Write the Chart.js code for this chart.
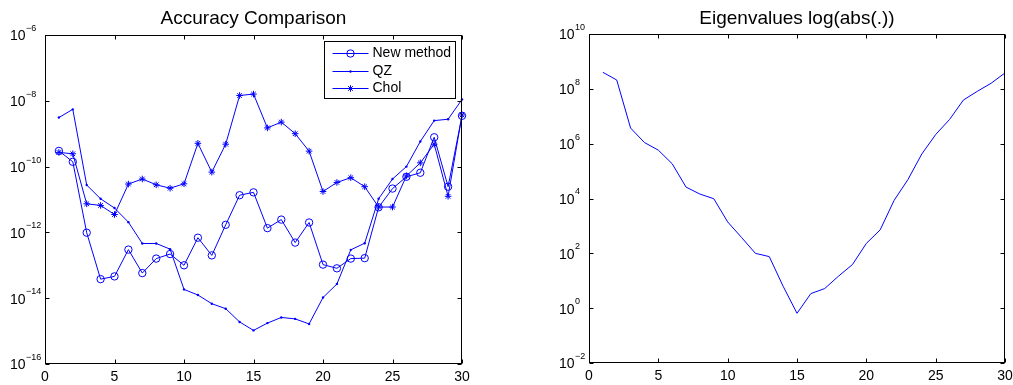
<!DOCTYPE html>
<html><head><meta charset="utf-8">
<script src="https://cdn.jsdelivr.net/npm/chart.js@4/dist/chart.umd.min.js"></script>
<style>
html,body{margin:0;padding:0;background:#fff;overflow:hidden}
#wrap{position:relative;width:1013px;height:385px;background:#fff}
.box{position:absolute;top:0}
</style></head><body>
<div id="wrap">
  <div class="box" style="left:0;width:506px;height:385px"><canvas id="c1" width="506" height="385"></canvas></div>
  <div class="box" style="left:506px;width:507px;height:385px"><canvas id="c2" width="507" height="385"></canvas></div>
</div>
<script>
// ---------- data ----------
const xValues = [1,2,3,4,5,6,7,8,9,10,11,12,13,14,15,16,17,18,19,20,21,22,23,24,25,26,27,28,29,30];
const newMethod = [3.0e-10,1.4e-10,9.8e-13,3.8e-14,4.6e-14,3.0e-13,5.8e-14,1.6e-13,2.2e-13,1.0e-13,
                   6.9e-13,2.0e-13,1.7e-12,1.35e-11,1.65e-11,1.35e-12,2.45e-12,4.9e-13,2.0e-12,1.05e-13,
                   8.1e-14,1.6e-13,1.65e-13,5.8e-12,2.15e-11,4.9e-11,6.5e-11,7.8e-10,2.45e-11,3.5e-9];
const qz = [3.1e-9,5.5e-9,2.75e-11,1.05e-11,5.5e-12,2.05e-12,4.6e-13,4.6e-13,3.1e-13,1.85e-14,
            1.25e-14,6.8e-15,4.8e-15,1.9e-15,1.05e-15,1.75e-15,2.6e-15,2.35e-15,1.65e-15,1.05e-14,
            2.7e-14,2.95e-13,4.7e-13,1.05e-11,4.2e-11,1.0e-10,5.8e-10,2.5e-9,2.75e-9,1.1e-8];
const chol = [2.7e-10,2.45e-10,7.4e-12,6.6e-12,3.5e-12,2.95e-11,4.2e-11,2.8e-11,2.2e-11,3.0e-11,
              5.1e-10,6.8e-11,4.8e-10,1.45e-8,1.6e-8,1.5e-9,2.25e-9,1.0e-9,2.95e-10,1.75e-11,
              3.3e-11,4.6e-11,2.45e-11,5.9e-12,5.9e-12,5.2e-11,1.3e-10,4.8e-10,1.25e-11,3.7e-9];
const eigenAbs = [4.0e8,2.1e8,3.7e6,1.1e6,5.8e5,1.85e5,2.6e4,1.45e4,9.8e3,1.4e3,
                  380,100,76,6.3,0.65,3.4,5.2,14.8,39,230,
                  720,8.5e3,4.9e4,4.2e5,2.15e6,7.6e6,3.9e7,8.1e7,1.6e8,3.8e8];
const xTicks = [0,5,10,15,20,25,30];
const leftYExps = [-6,-8,-10,-12,-14,-16];
const rightYExps = [10,8,6,4,2,0,-2];
const seriesNames = ['New method','QZ','Chol'];
const titles = ['Accuracy Comparison','Eigenvalues log(abs(.))'];

// ---------- styling ----------
const BLUE = '#0000ff';
const FONT = '"Liberation Sans", Arial, Helvetica, sans-serif';

function pts(ys){ return xValues.map((x,i)=>({x:x,y:ys[i]})); }

function drawMarker(ctx, style, x, y){
  ctx.save();
  ctx.strokeStyle = BLUE; ctx.fillStyle = BLUE; ctx.lineWidth = 1;
  if (style === 'circle'){
    ctx.beginPath(); ctx.arc(x, y, 3.7, 0, Math.PI*2); ctx.stroke();
  } else if (style === 'dot'){
    ctx.beginPath(); ctx.arc(x, y, 1.2, 0, Math.PI*2); ctx.fill();
  } else if (style === 'star'){
    const r = 3.3, d = r*Math.SQRT1_2;
    ctx.beginPath();
    ctx.moveTo(x-r,y); ctx.lineTo(x+r,y);
    ctx.moveTo(x,y-r); ctx.lineTo(x,y+r);
    ctx.moveTo(x-d,y-d); ctx.lineTo(x+d,y+d);
    ctx.moveTo(x-d,y+d); ctx.lineTo(x+d,y-d);
    ctx.stroke();
  }
  ctx.restore();
}

function matlabAxes(opts){
  return {
    id: 'matlabAxes',
    afterDraw(chart){
      const ctx = chart.ctx, a = chart.chartArea;
      const xs = chart.scales.x, ys = chart.scales.y;
      const L = Math.round(a.left)+0.5, R = Math.round(a.right)-0.5;
      const T = Math.round(a.top)+0.5, B = Math.round(a.bottom)-0.5;
      ctx.save();
      // box
      ctx.strokeStyle = '#000'; ctx.lineWidth = 1;
      ctx.strokeRect(L, T, R-L, B-T);
      // ticks inward
      const tl = 4;
      ctx.beginPath();
      xTicks.forEach(v=>{
        const px = Math.round(xs.getPixelForValue(v))+0.5;
        ctx.moveTo(px, B); ctx.lineTo(px, B-tl);
        ctx.moveTo(px, T); ctx.lineTo(px, T+tl);
      });
      opts.yExps.forEach(e=>{
        const py = Math.round(ys.getPixelForValue(Math.pow(10,e)))+0.5;
        ctx.moveTo(L, py); ctx.lineTo(L+tl, py);
        ctx.moveTo(R, py); ctx.lineTo(R-tl, py);
      });
      ctx.stroke();
      // x labels
      ctx.fillStyle = '#000';
      ctx.font = '14px ' + FONT;
      ctx.textAlign = 'center'; ctx.textBaseline = 'middle';
      xTicks.forEach(v=>{
        ctx.fillText(String(v), xs.getPixelForValue(v), a.bottom + 13);
      });
      // y labels 10^e
      opts.yExps.forEach(e=>{
        const py = ys.getPixelForValue(Math.pow(10,e));
        ctx.font = '14px ' + FONT;
        ctx.textAlign = 'left'; ctx.textBaseline = 'middle';
        ctx.fillText('10', opts.labelX, py + 1.5);
        const w = ctx.measureText('10').width;
        ctx.font = '9px ' + FONT;
        const es = e < 0 ? '\u2212' + Math.abs(e) : String(e);
        ctx.fillText(es, opts.labelX + w + 0.5, py - 6.5);
      });
      // title
      ctx.font = '19px ' + FONT;
      ctx.textAlign = 'center'; ctx.textBaseline = 'alphabetic';
      ctx.fillText(opts.title, (a.left + a.right)/2, 24);
      // legend
      if (opts.legend){
        const lg = opts.legend;
        ctx.fillStyle = '#fff';
        ctx.fillRect(lg.x, lg.y, lg.w, lg.h);
        ctx.strokeStyle = '#000'; ctx.lineWidth = 1;
        ctx.strokeRect(lg.x, lg.y, lg.w, lg.h);
        lg.items.forEach((it, i)=>{
          const ry = lg.rows[i];
          ctx.strokeStyle = BLUE; ctx.lineWidth = 1;
          ctx.beginPath(); ctx.moveTo(lg.x + 8, ry + 0.5); ctx.lineTo(lg.x + 44, ry + 0.5); ctx.stroke();
          drawMarker(ctx, it.marker, lg.x + 26, ry + 0.5);
          ctx.fillStyle = '#000';
          ctx.font = '14px ' + FONT;
          ctx.textAlign = 'left'; ctx.textBaseline = 'middle';
          ctx.fillText(it.label, lg.x + 48, ry + 0.5);
        });
      }
      ctx.restore();
    }
  };
}

// Star marker for chol (asterisk with 4 strokes)
function starCanvas(){
  const c = document.createElement('canvas');
  c.width = 9; c.height = 9;
  drawMarker(c.getContext('2d'), 'star', 4.5, 4.5);
  return c;
}

const baseScales = (ymin, ymax) => ({
  x: { type: 'linear', min: 0, max: 30, display: false },
  y: { type: 'logarithmic', min: ymin, max: ymax, display: false }
});

new Chart(document.getElementById('c1'), {
  type: 'line',
  data: {
    datasets: [
      { label: seriesNames[0], data: pts(newMethod), borderColor: BLUE, borderWidth: 1,
        pointStyle: 'circle', pointRadius: 3.7, pointBorderColor: BLUE, pointBackgroundColor: 'rgba(0,0,0,0)',
        pointBorderWidth: 1, tension: 0, clip: false, fill: false },
      { label: seriesNames[1], data: pts(qz), borderColor: BLUE, borderWidth: 1,
        pointStyle: 'circle', pointRadius: 1.2, pointBorderWidth: 0, pointBackgroundColor: BLUE,
        tension: 0, clip: false, fill: false },
      { label: seriesNames[2], data: pts(chol), borderColor: BLUE, borderWidth: 1,
        pointStyle: 'star', pointRadius: 3.3, pointBorderColor: BLUE, pointBorderWidth: 1,
        tension: 0, clip: false, fill: false }
    ]
  },
  options: {
    responsive: false, animation: false, devicePixelRatio: 1,
    layout: { padding: { left: 45, top: 35, right: 44, bottom: 21 } },
    scales: baseScales(1e-16, 1e-6),
    plugins: { legend: { display: false }, tooltip: { enabled: false } },
    events: []
  },
  plugins: [matlabAxes({
    yExps: leftYExps, labelX: 10, title: titles[0],
    legend: { x: 324.5, y: 41.5, w: 131, h: 57, rows: [53, 71, 88],
      items: [ {label: seriesNames[0], marker: 'circle'}, {label: seriesNames[1], marker: 'dot'}, {label: seriesNames[2], marker: 'star'} ] }
  })]
});

new Chart(document.getElementById('c2'), {
  type: 'line',
  data: {
    datasets: [
      { label: 'eig', data: pts(eigenAbs), borderColor: BLUE, borderWidth: 1, pointRadius: 0, tension: 0, fill: false }
    ]
  },
  options: {
    responsive: false, animation: false, devicePixelRatio: 1,
    layout: { padding: { left: 83, top: 34, right: 8, bottom: 22 } },
    scales: baseScales(1e-2, 1e10),
    plugins: { legend: { display: false }, tooltip: { enabled: false } },
    events: []
  },
  plugins: [matlabAxes({ yExps: rightYExps, labelX: 53, title: titles[1] })]
});
</script>
</body></html>
